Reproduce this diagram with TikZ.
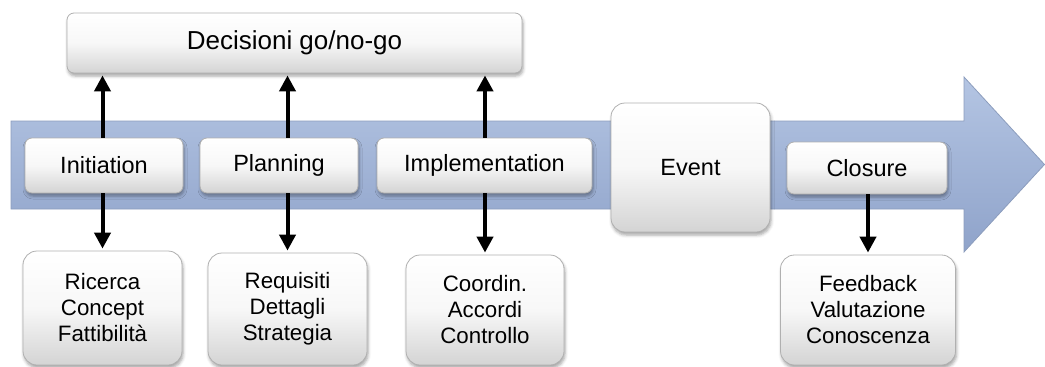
\documentclass[tikz,border=0pt]{standalone}
\usepackage{fontspec}
\setmainfont{Liberation Sans}
\usetikzlibrary{arrows.meta,shadows.blur}

\definecolor{bandtop}{HTML}{B4C5E3}
\definecolor{bandbot}{HTML}{8FA3CA}
\definecolor{bandedge}{HTML}{8C9DBD}
\definecolor{boxedge}{HTML}{B0B0B0}

\tikzset{
  card/.style={draw=boxedge, line width=0.8pt, rounded corners=7pt,
    top color=white, bottom color=black!17, middle color=white!97!black,
    blur shadow={shadow xshift=1pt, shadow yshift=-3pt,
                 shadow blur radius=3pt, shadow opacity=35},
    align=center, inner sep=0pt},
  phase/.style={card, minimum height=55pt, font=\fontsize{23.5}{28}\selectfont},
  detail/.style={card, rounded corners=14pt, font=\fontsize{22.3}{26}\selectfont},
  link/.style={line width=4pt, -{Triangle[width=16pt,length=16pt]}, shorten >=2pt},
}

\begin{document}
\begin{tikzpicture}[x=1pt, y=-1pt]
\useasboundingbox (0,0) rectangle (1045,367);

% timeline band with arrow head
\path[draw=bandedge, line width=0.8pt, top color=bandtop, bottom color=bandbot]
  (11,121) -- (964,121) -- (964,77) -- (1044.5,164.5) -- (964,252)
  -- (964,209) -- (11,209) -- cycle;

% decision box
\node[card, minimum width=455pt, minimum height=60pt,
      font=\fontsize{26}{30}\selectfont] (dec) at (294.5,43) {Decisioni go/no-go};

% phases
\node[phase, minimum width=158pt] (init) at (104,165.5) {Initiation};
\node[phase, minimum width=158pt] (plan) at (279,165.5) {Planning};
\node[phase, minimum width=215pt] (impl) at (484.5,165.5) {Implementation};
\node[card, rounded corners=14pt, minimum width=159pt, minimum height=129pt,
      font=\fontsize{23.5}{28}\selectfont] (event) at (690.5,167.5) {Event};
\node[phase, minimum width=160pt, minimum height=52pt] (clos) at (867,168) {Closure};

% activities
\node[detail, minimum width=159pt, minimum height=114pt] (ric) at (102.5,308)
  {Ricerca\\Concept\\Fattibilità};
\node[detail, minimum width=159pt, minimum height=112pt] (req) at (287.5,309)
  {Requisiti\\Dettagli\\Strategia};
\node[detail, minimum width=158pt, minimum height=110pt] (coo) at (485,310)
  {Coordin.\\Accordi\\Controllo};
\node[detail, minimum width=175pt, minimum height=110pt] (fee) at (868,310)
  {Feedback\\Valutazione\\Conoscenza};

% go/no-go decisions
\draw[link] (init.north -| ric.north) -- (dec.south -| ric.north);
\draw[link] (plan.north -| req.north) -- (dec.south -| req.north);
\draw[link] (impl.north -| coo.north) -- (dec.south -| coo.north);

% phase outputs
\draw[link] (init.south -| ric.north) -- (ric.north);
\draw[link] (plan.south -| req.north) -- (req.north);
\draw[link] (impl.south -| coo.north) -- (coo.north);
\draw[link] (clos.south -| fee.north) -- (fee.north);
\end{tikzpicture}
\end{document}
